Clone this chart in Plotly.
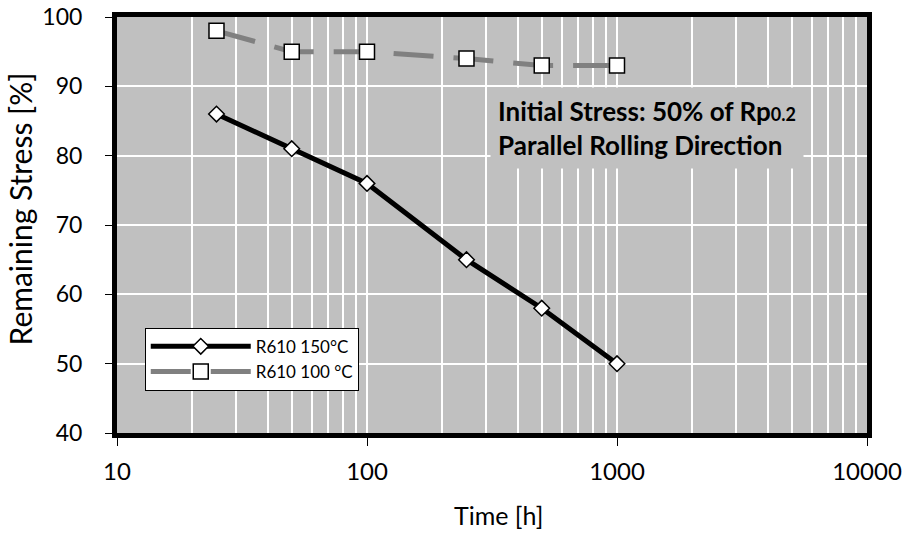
import plotly.graph_objects as go

time_h = [25, 50, 100, 250, 500, 1000]
stress_150 = [86, 81, 76, 65, 58, 50]
stress_100 = [98, 95, 95, 94, 93, 93]
x_ticks = [10, 100, 1000, 10000]
y_ticks = [40, 50, 60, 70, 80, 90, 100]

FONT = "Lato"
fig = go.Figure()
fig.add_trace(go.Scatter(
    x=time_h, y=stress_150, name="R610 150°C", mode="lines+markers",
    line=dict(color="black", width=5),
    marker=dict(symbol="diamond", size=12, color="white", line=dict(color="black", width=1.5)),
))
fig.add_trace(go.Scatter(
    x=time_h, y=stress_100, name="R610 100 °C", mode="lines+markers",
    line=dict(color="#808080", width=5, dash="40px,20px"),
    marker=dict(symbol="square", size=15, color="white", line=dict(color="black", width=1.5)),
))

fig.update_layout(
    width=908, height=533,
    margin=dict(l=117, r=41, t=17, b=100, autoexpand=False),
    paper_bgcolor="white", plot_bgcolor="#c0c0c0",
    font=dict(family=FONT, size=20, color="black"),
    showlegend=True,
    legend=dict(x=0.037, y=0.253, xanchor="left", yanchor="top",
                bgcolor="white", bordercolor="black", borderwidth=1,
                font=dict(size=17, family=FONT), tracegroupgap=0, itemwidth=100,
                entrywidth=130, entrywidthmode="pixels"),
    annotations=[
        dict(
            xref="paper", yref="paper", x=0.706, y=0.733, xanchor="center", yanchor="middle",
            text="<b>Initial Stress: 50% of Rp<span style='font-size:18px'>0.2</span></b><br><b>Parallel Rolling Direction</b>",
            showarrow=False, align="left", bgcolor="#c0c0c0", borderpad=7,
            font=dict(size=26, family=FONT, color="black"),
        ),
        dict(
            xref="paper", yref="paper", x=0.509, y=-0.198, xanchor="center", yanchor="middle",
            text="Time [h]", showarrow=False, font=dict(size=25, family=FONT, color="black"),
        ),
        dict(
            xref="paper", yref="paper", x=-0.129, y=0.538, xanchor="center", yanchor="middle",
            text="Remaining Stress [%]", textangle=-90, showarrow=False,
            font=dict(size=30, family=FONT, color="black"),
        ),
    ],
)
fig.update_xaxes(
    type="log", range=[1, 4], tickvals=x_ticks, ticktext=[str(v) for v in x_ticks],
    tickfont=dict(size=24), ticklabelstandoff=5,
    showgrid=True, gridcolor="white", gridwidth=2,
    minor=dict(dtick="D1", showgrid=True, gridcolor="white", gridwidth=2, ticks=""),
    ticks="outside", ticklen=8, tickcolor="black",
    showline=True, linecolor="black", linewidth=5, mirror=True, zeroline=False,
    automargin=False,
)
fig.update_yaxes(
    range=[40, 100], tickvals=y_ticks, tickfont=dict(size=23), ticklabelstandoff=18,
    showgrid=True, gridcolor="white", gridwidth=2,
    ticks="outside", ticklen=7, tickcolor="black",
    showline=True, linecolor="black", linewidth=5, mirror=True, zeroline=False,
    automargin=False,
)
fig.write_html("out.html", config={"displayModeBar": False},
               post_script="document.body.style.margin='0';")
